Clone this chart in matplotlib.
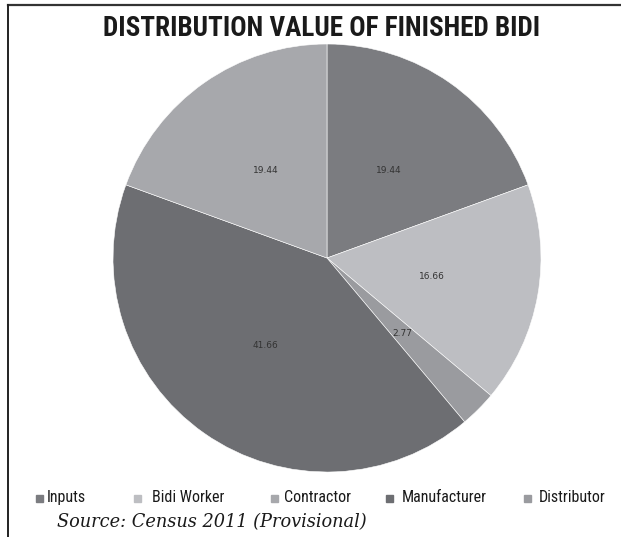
import matplotlib
matplotlib.use("Agg")
import matplotlib.pyplot as plt
import numpy as np
from matplotlib.lines import Line2D
from matplotlib.patches import Rectangle

# slices in drawing order (clockwise from 12 o'clock)
slice_names = ["Inputs", "Bidi Worker", "Distributor", "Manufacturer", "Contractor"]
slice_values = [19.44, 16.66, 2.77, 41.66, 19.44]
slice_labels = ["19.44", "16.66", "2.77", "41.66", "19.44"]
colors = {"Inputs": "#7b7c80", "Bidi Worker": "#bdbec2", "Distributor": "#9a9b9f",
          "Manufacturer": "#6d6e72", "Contractor": "#a7a8ac"}

# legend order as shown
legend_names = ["Inputs", "Bidi Worker", "Contractor", "Manufacturer", "Distributor"]
legend_x = [36, 134, 271, 386, 524]   # pixel position of each legend square
text_x = [47, 152, 284, 402, 539]     # pixel position of each legend text

W, H = 621, 537
fig = plt.figure(figsize=(W / 100, H / 100), dpi=100)
narrow = ["Roboto Condensed", "PT Sans Narrow", "DejaVu Sans"]

# frame lines (top and left)
fig.add_artist(Line2D([8 / W, 1], [1 - 5 / H, 1 - 5 / H], color="#333333", lw=1.6))
fig.add_artist(Line2D([8 / W, 8 / W], [1 - 5 / H, 0], color="#222222", lw=1.4))

cx, cy, r = 327, 258, 214
ax = fig.add_axes([(cx - r) / W, (H - cy - r) / H, 2 * r / W, 2 * r / H])
wedges, _ = ax.pie(slice_values, colors=[colors[n] for n in slice_names],
                   startangle=90, counterclock=False,
                   wedgeprops=dict(edgecolor="white", linewidth=0.4))
ax.set_xlim(-1, 1)
ax.set_ylim(-1, 1)
ax.set_aspect("equal")
ax.axis("off")

for w, lab in zip(wedges, slice_labels):
    ang = np.deg2rad((w.theta1 + w.theta2) / 2)
    ax.text(0.5 * np.cos(ang), 0.5 * np.sin(ang), lab, ha="center", va="center",
            fontsize=6.5, color="#333333", family="DejaVu Sans")

fig.text(322 / W, 1 - 29 / H, "DISTRIBUTION VALUE OF FINISHED BIDI", ha="center", va="center",
         fontsize=19.5, fontweight="bold", color="#1a1a1a", family=narrow)

for name, x, tx in zip(legend_names, legend_x, text_x):
    fig.add_artist(Rectangle((x / W, 1 - 502 / H), 7 / W, 7 / H, color=colors[name],
                             transform=fig.transFigure))
    fig.text(tx / W, 1 - 502 / H, name, ha="left", va="baseline",
             fontsize=11.5, color="#1a1a1a", family=narrow)

fig.text(57 / W, 1 - 522 / H, "Source: Census 2011 (Provisional)", ha="left", va="center",
         fontsize=12.8, style="italic", color="#1a1a1a", family=["DejaVu Serif", "Liberation Serif"])

fig.savefig("out.png", dpi=100)
